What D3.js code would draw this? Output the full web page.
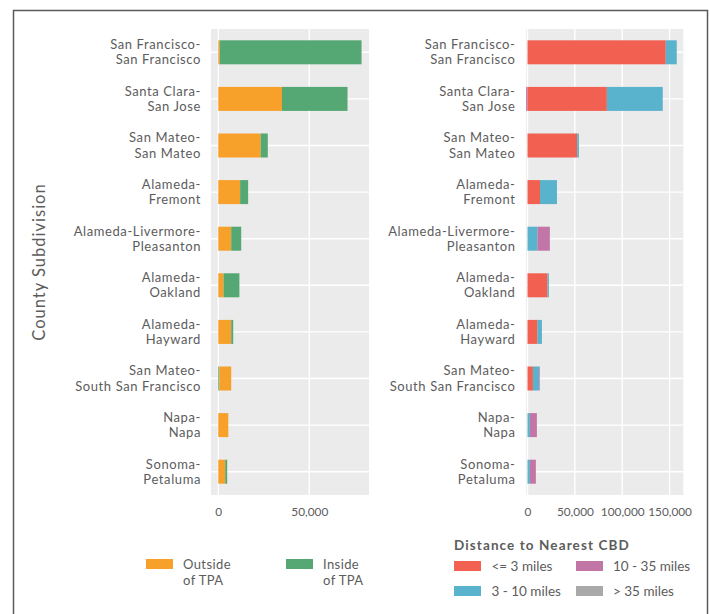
<!DOCTYPE html>
<html>
<head>
<meta charset="utf-8">
<script src="https://cdn.jsdelivr.net/npm/d3@7"></script>
<style>
  html, body { margin: 0; padding: 0; background: #fff; }
  svg { display: block; font-family: Lato, "Open Sans", sans-serif; }
</style>
</head>
<body>
<svg id="chart" width="710" height="614"></svg>
<script>
// ---------------- DATA ----------------
const categories = [
  "San Francisco-San Francisco",
  "Santa Clara-San Jose",
  "San Mateo-San Mateo",
  "Alameda-Fremont",
  "Alameda-Livermore-Pleasanton",
  "Alameda-Oakland",
  "Alameda-Hayward",
  "San Mateo-South San Francisco",
  "Napa-Napa",
  "Sonoma-Petaluma"
];

const tpaSeries = ["Outside of TPA", "Inside of TPA"];
const tpaColors = ["#F7A02A", "#55A873"];
// stacked segments per category, in drawing order [series, value]
const tpaSegments = [
  [["Outside of TPA", 800], ["Inside of TPA", 77900]],
  [["Outside of TPA", 35000], ["Inside of TPA", 36000]],
  [["Outside of TPA", 23300], ["Inside of TPA", 3900]],
  [["Outside of TPA", 12000], ["Inside of TPA", 4400]],
  [["Outside of TPA", 7100], ["Inside of TPA", 5500]],
  [["Outside of TPA", 2900], ["Inside of TPA", 8700]],
  [["Outside of TPA", 7100], ["Inside of TPA", 1100]],
  [["Inside of TPA", 600], ["Outside of TPA", 6500]],
  [["Outside of TPA", 5500]],
  [["Outside of TPA", 3800], ["Inside of TPA", 1100]]
];
const tpaTicks = [0, 50000];

const cbdSeries = ["<= 3 miles", "3 - 10 miles", "10 - 35 miles", "> 35 miles"];
const cbdColors = ["#F26052", "#5AB3CC", "#C176A6", "#A9A9A9"];
const cbdSegments = [
  [["<= 3 miles", 146000], ["3 - 10 miles", 11600]],
  [["10 - 35 miles", -1500], ["<= 3 miles", 83800], ["3 - 10 miles", 59000]],
  [["<= 3 miles", 52400], ["3 - 10 miles", 1900]],
  [["<= 3 miles", 13200], ["3 - 10 miles", 17900]],
  [["3 - 10 miles", 10600], ["10 - 35 miles", 13000]],
  [["<= 3 miles", 21200], ["3 - 10 miles", 1400]],
  [["<= 3 miles", 10600], ["3 - 10 miles", 4600]],
  [["<= 3 miles", 5700], ["3 - 10 miles", 6600], ["10 - 35 miles", 700]],
  [["3 - 10 miles", 2500], ["10 - 35 miles", 7400]],
  [["3 - 10 miles", 2500], ["10 - 35 miles", 6300]]
];
const cbdTicks = [0, 50000, 100000, 150000];

const yTitle = "County Subdivision";
const cbdLegendTitle = "Distance to Nearest CBD";

// ---------------- DRAW ----------------
const svg = d3.select("#chart");
const textColor = "#5c5c5c";
const panelBg = "#EBEBEB";
const fmt = d3.format(",");

// outer frame
svg.append("rect")
  .attr("x", 13.5).attr("y", 10.5)
  .attr("width", 694).attr("height", 700)
  .attr("fill", "none").attr("stroke", "#5a5a5a").attr("stroke-width", 1.5);

const yScale = d3.scalePoint().domain(categories).range([29, 495]).padding(0.5);
const barH = 24;

function splitLabel(s) {
  const i = s.lastIndexOf("-");
  return [s.slice(0, i + 1), s.slice(i + 1)];
}

function drawPanel(opts) {
  const { x0, x1, domain, ticks, segments, series, colors, labelX } = opts;
  const x = d3.scaleLinear().domain(domain).range([x0, x1]);
  const color = d3.scaleOrdinal().domain(series).range(colors);
  const g = svg.append("g");

  g.append("rect")
    .attr("x", x0).attr("y", 29)
    .attr("width", x1 - x0).attr("height", 495 - 29)
    .attr("fill", panelBg);

  // gridlines
  g.selectAll(".vgrid").data(ticks).join("line")
    .attr("x1", d => x(d)).attr("x2", d => x(d))
    .attr("y1", 29).attr("y2", 495)
    .attr("stroke", "#fff").attr("stroke-width", 1.4);
  g.selectAll(".hgrid").data(categories).join("line")
    .attr("x1", x0).attr("x2", x1)
    .attr("y1", d => yScale(d)).attr("y2", d => yScale(d))
    .attr("stroke", "#fff").attr("stroke-width", 1.4);

  // bars
  categories.forEach((cat, i) => {
    let pos = 0, neg = 0;
    segments[i].forEach(([s, v]) => {
      let a, b;
      if (v >= 0) { a = pos; b = pos + v; pos = b; }
      else { a = neg + v; b = neg; neg = a; }
      g.append("rect")
        .attr("x", x(a)).attr("width", x(b) - x(a))
        .attr("y", yScale(cat) - barH / 2).attr("height", barH)
        .attr("fill", color(s));
    });
  });

  // x axis tick labels
  const axis = d3.axisBottom(x).tickValues(ticks).tickFormat(fmt).tickSize(0).tickPadding(0);
  const ax = g.append("g").attr("transform", "translate(0,508)").call(axis);
  ax.select(".domain").remove();
  ax.selectAll("text")
    .attr("fill", textColor).attr("font-size", 11.8)
    .attr("font-family", "Lato, sans-serif");

  // y labels (two lines each)
  categories.forEach(cat => {
    const [l1, l2] = splitLabel(cat);
    [[l1, -7.6], [l2, 7.6]].forEach(([txt, off]) => {
      g.append("text")
        .attr("x", labelX).attr("y", yScale(cat) + off).attr("dy", "0.35em")
        .attr("text-anchor", "end")
        .attr("fill", textColor).attr("font-size", 13).attr("letter-spacing", 0.6)
        .text(txt);
    });
  });
}

drawPanel({
  x0: 211, x1: 369, domain: [-4000, 82800], ticks: tpaTicks,
  segments: tpaSegments, series: tpaSeries, colors: tpaColors, labelX: 201
});
drawPanel({
  x0: 526, x1: 683.3, domain: [-1600, 164500], ticks: cbdTicks,
  segments: cbdSegments, series: cbdSeries, colors: cbdColors, labelX: 515.5
});

// y title
svg.append("text")
  .attr("transform", "translate(39,262) rotate(-90)")
  .attr("text-anchor", "middle").attr("dy", "0.35em")
  .attr("fill", textColor).attr("font-size", 16.5).attr("letter-spacing", 1)
  .text(yTitle);

// left legend
const tpaLegendPos = [[146, 183], [286, 323]];
tpaSeries.forEach((s, i) => {
  const [rx, tx] = tpaLegendPos[i];
  svg.append("rect").attr("x", rx).attr("y", 559).attr("width", 27).attr("height", 10)
    .attr("fill", tpaColors[i]);
  const words = s.split(" ");
  const l1 = words[0], l2 = words.slice(1).join(" ");
  [[l1, 564], [l2, 580]].forEach(([txt, y]) => {
    svg.append("text").attr("x", tx).attr("y", y).attr("dy", "0.35em")
      .attr("fill", textColor).attr("font-size", 13).attr("letter-spacing", 0.4)
      .text(txt);
  });
});

// right legend
svg.append("text")
  .attr("x", 454).attr("y", 545).attr("dy", "0.35em")
  .attr("fill", textColor).attr("font-size", 13.5).attr("font-weight", "bold")
  .attr("letter-spacing", 1.1)
  .text(cbdLegendTitle);
const cbdLegendPos = [[454, 491.5, 561], [454, 491.5, 586], [576, 613, 561], [576, 613, 586]];
cbdSeries.forEach((s, i) => {
  const [rx, tx, ry] = cbdLegendPos[i];
  svg.append("rect").attr("x", rx).attr("y", ry).attr("width", 27).attr("height", 10)
    .attr("fill", cbdColors[i]);
  svg.append("text").attr("x", tx).attr("y", ry + 5).attr("dy", "0.35em")
    .attr("fill", textColor).attr("font-size", 13.5).text(s);
});
</script>
</body>
</html>
